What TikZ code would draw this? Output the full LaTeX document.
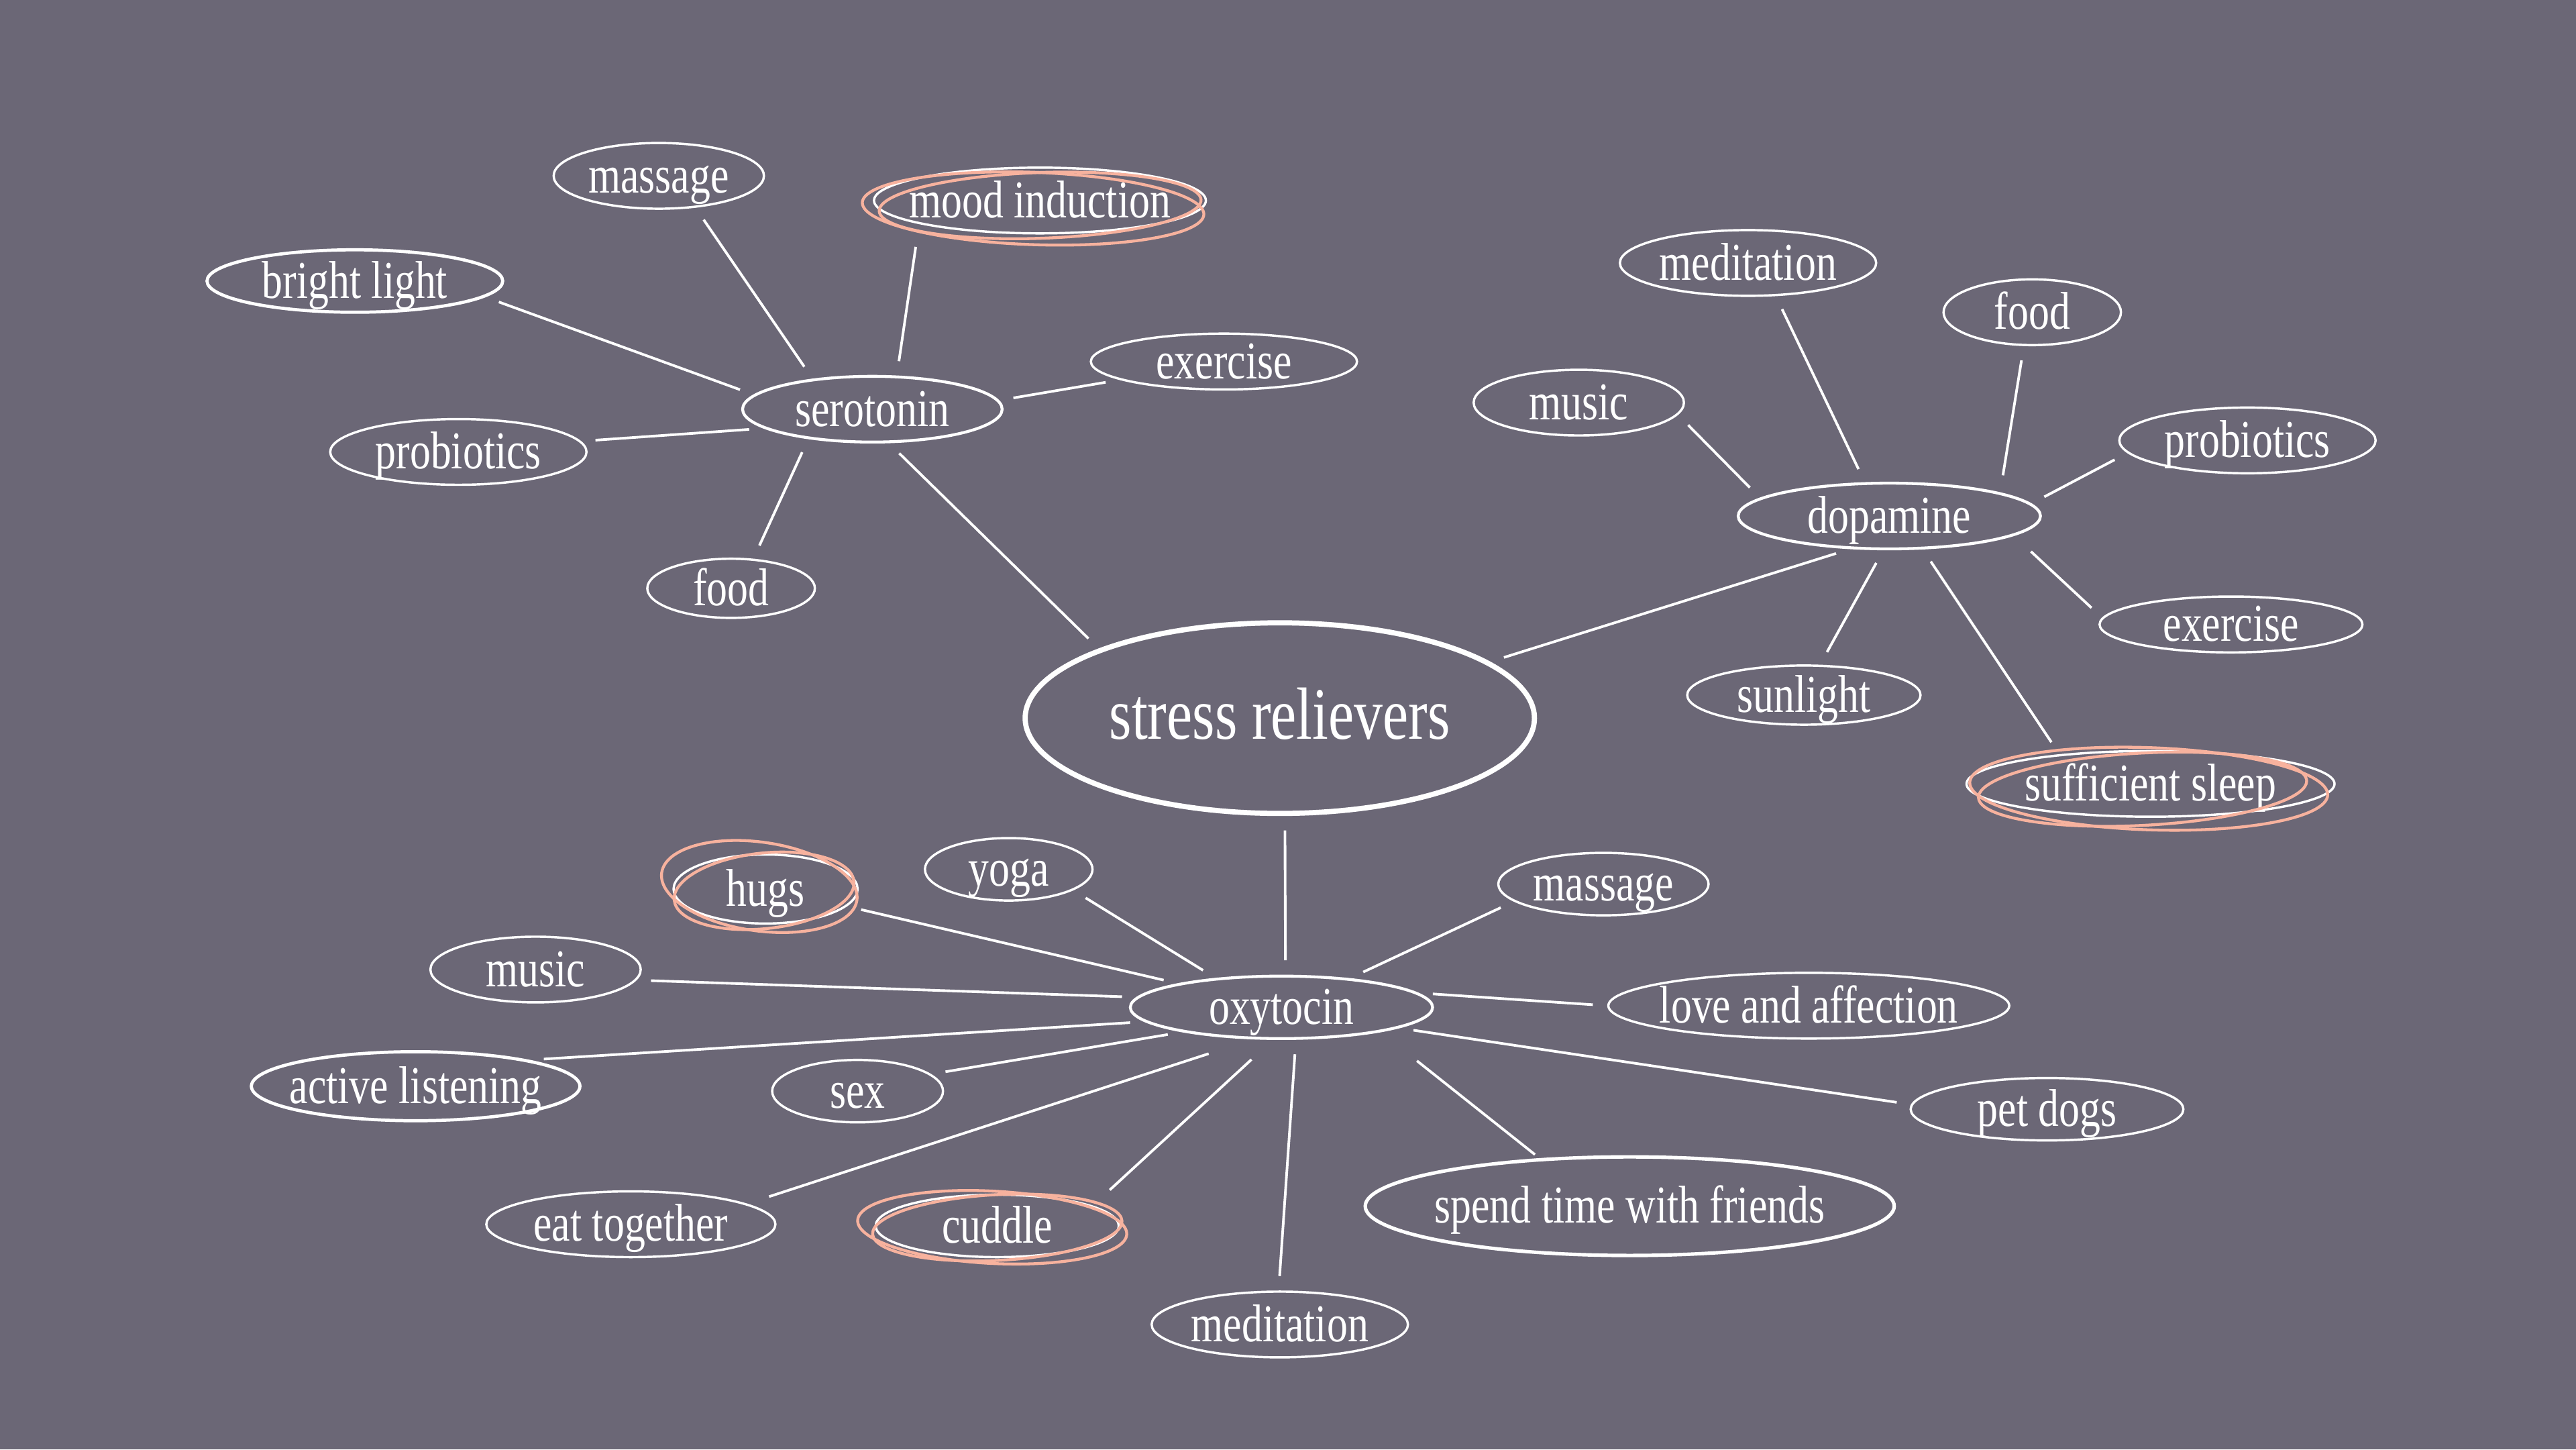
\documentclass[tikz,border=0pt]{standalone}
\usepackage{fontspec}
\setmainfont{Liberation Serif}[FakeStretch=0.78]
\usepackage{xcolor}
\usetikzlibrary{shapes}
\definecolor{slate}{RGB}{107,103,118}
\definecolor{blush}{RGB}{247,178,158}

\begin{document}
\begin{tikzpicture}[
	leaf/.style={draw=white, text=white, ellipse, line width=0.4pt, inner xsep=-0.1cm, inner ysep=-0.04cm, text height=1.5ex, text depth=0.22ex, font=\fontsize{9.2}{11}\selectfont},
	hub/.style={leaf, line width=0.5pt},
	link/.style={draw=white, line width=0.45pt, shorten <=2.5pt, shorten >=2.5pt},
	ring/.style={draw=blush, line width=0.5pt}]
	   	%Hintergrund
	   	\useasboundingbox (0,0) rectangle (15.68,-8.82);
	   	\fill[slate] (0,0) rectangle (15.68,-8.82);
	   	%
	   	%Mitte
	   	\node (stress) at (7.79,-4.37) [leaf, line width=0.9pt, minimum width=3.1cm, minimum height=1.16cm, text height=1.6ex, text depth=0pt, font=\fontsize{12.8}{15}\selectfont] {stress relievers};
	   	%
	   	%%%%%%%%%%%%%%%%%%%%%%%%%%%%%%%%%%%%%%
	   	%SEROTONIN
	   	\node (sero) at (5.31,-2.49) [hub, minimum width=1.58cm, minimum height=0.4cm] {serotonin};
	   	\node (sMassage) at (4.01,-1.07) [leaf, minimum width=1.28cm, minimum height=0.4cm] {massage};
	   	\node (sMood) at (6.33,-1.22) [leaf, minimum width=2.02cm, minimum height=0.4cm] {mood induction};
	   	\node (sLight) at (2.16,-1.71) [leaf, line width=0.55pt, minimum width=1.8cm, minimum height=0.38cm] {bright light};
	   	\node (sExercise) at (7.45,-2.2) [leaf, minimum width=1.62cm, minimum height=0.34cm] {exercise};
	   	\node (sProbiotics) at (2.79,-2.75) [leaf, minimum width=1.56cm, minimum height=0.4cm] {probiotics};
	   	\node (sFood) at (4.45,-3.58) [leaf, minimum width=1.02cm, minimum height=0.36cm] {food};
	   	%
	   	%Ringe mood induction
	   	\draw[ring, rotate around={-2:(sMood.center)}] ([shift={(-0.04,-0.05)}]sMood.center) ellipse (1.04 and 0.22);
	   	\draw[ring, rotate around={2:(sMood.center)}] ([shift={(0,-0.03)}]sMood.center) ellipse (0.98 and 0.2);
	   	%
	   	%Linien Serotonin
	   	\draw[link] (sero.153) -- (sMassage.-41);
	   	\draw[link, shorten >=4pt] (sero.54) -- (sMood.-169);
	   	\draw[link] (sero.173) -- (sLight.-7);
	   	\draw[link] (sero.4) -- (sExercise.190);
	   	\draw[link] (sero.190) -- (sProbiotics.5);
	   	\draw[link] (sero.205) -- (sFood.53);
	   	\draw[link] (sero.-64) -- (stress.159);
	   	%
	   	%%%%%%%%%%%%%%%%%%%%%%%%%%%%%%%%%%%%%%
	   	%DOPAMINE
	   	\node (dopa) at (11.5,-3.14) [hub, minimum width=1.84cm, minimum height=0.4cm] {dopamine};
	   	\node (dMeditation) at (10.64,-1.6) [leaf, minimum width=1.56cm, minimum height=0.4cm] {meditation};
	   	\node (dFood) at (12.37,-1.9) [leaf, minimum width=1.08cm, minimum height=0.4cm] {food};
	   	\node (dMusic) at (9.61,-2.45) [leaf, minimum width=1.28cm, minimum height=0.4cm] {music};
	   	\node (dProbiotics) at (13.68,-2.68) [leaf, minimum width=1.56cm, minimum height=0.4cm] {probiotics};
	   	\node (dExercise) at (13.58,-3.8) [leaf, minimum width=1.6cm, minimum height=0.34cm] {exercise};
	   	\node (dSunlight) at (10.98,-4.23) [leaf, minimum width=1.42cm, minimum height=0.36cm] {sunlight};
	   	\node (dSleep) at (13.09,-4.77) [leaf, minimum width=2.24cm, minimum height=0.4cm] {sufficient sleep};
	   	%
	   	%Ringe sufficient sleep
	   	\draw[ring, rotate around={-2:(dSleep.center)}] ([shift={(-0.01,-0.03)}]dSleep.center) ellipse (1.09 and 0.25);
	   	\draw[ring, rotate around={3:(dSleep.center)}] ([shift={(-0.05,-0.03)}]dSleep.center) ellipse (1.0 and 0.22);
	   	%
	   	%Linien Dopamine
	   	\draw[link] (dopa.126) -- (dMeditation.-50);
	   	\draw[link, shorten <=3pt] (dopa.12) -- (dFood.-104);
	   	\draw[link] (dopa.172) -- (dMusic.-7);
	   	\draw[link] (dopa.5) -- (dProbiotics.186);
	   	\draw[link, shorten <=4pt] (dopa.-9) -- (dExercise.177);
	   	\draw[link] (dopa.-100) -- (dSunlight.62);
	   	\draw[link] (dopa.-45) -- (dSleep.162);
	   	\draw[link] (dopa.220) -- (stress.15);
	   	%
	   	%%%%%%%%%%%%%%%%%%%%%%%%%%%%%%%%%%%%%%
	   	%OXYTOCIN
	   	\node (oxy) at (7.8,-6.13) [hub, minimum width=1.84cm, minimum height=0.38cm] {oxytocin};
	   	\node (oHugs) at (4.66,-5.41) [leaf, minimum width=1.12cm, minimum height=0.42cm] {hugs};
	   	\node (oYoga) at (6.14,-5.29) [leaf, minimum width=1.02cm, minimum height=0.38cm] {yoga};
	   	\node (oMassage) at (9.76,-5.38) [leaf, minimum width=1.28cm, minimum height=0.38cm] {massage};
	   	\node (oMusic) at (3.26,-5.9) [leaf, minimum width=1.28cm, minimum height=0.4cm] {music};
	   	\node (oLove) at (11.01,-6.12) [leaf, minimum width=2.44cm, minimum height=0.4cm] {love and affection};
	   	\node (oListening) at (2.53,-6.61) [leaf, line width=0.55pt, minimum width=2cm, minimum height=0.42cm] {active listening};
	   	\node (oSex) at (5.22,-6.64) [leaf, minimum width=1.04cm, minimum height=0.38cm] {sex};
	   	\node (oDogs) at (12.46,-6.75) [leaf, minimum width=1.66cm, minimum height=0.38cm] {pet dogs};
	   	\node (oEat) at (3.84,-7.45) [leaf, minimum width=1.76cm, minimum height=0.4cm] {eat together};
	   	\node (oCuddle) at (6.07,-7.46) [leaf, minimum width=1.48cm, minimum height=0.38cm] {cuddle};
	   	\node (oFriends) at (9.92,-7.34) [leaf, line width=0.6pt, minimum width=3.22cm, minimum height=0.6cm] {spend time with friends};
	   	\node (oMeditation) at (7.79,-8.06) [leaf, minimum width=1.56cm, minimum height=0.4cm] {meditation};
	   	%
	   	%Ringe hugs, cuddle
	   	\draw[ring, rotate around={-8:(oHugs.center)}] ([shift={(-0.04,0.01)}]oHugs.center) ellipse (0.6 and 0.27);
	   	\draw[ring, rotate around={6:(oHugs.center)}] ([shift={(-0.01,-0.01)}]oHugs.center) ellipse (0.55 and 0.23);
	   	\draw[ring, rotate around={-3:(oCuddle.center)}] ([shift={(-0.03,-0.01)}]oCuddle.center) ellipse (0.82 and 0.22);
	   	\draw[ring, rotate around={3:(oCuddle.center)}] ([shift={(0,-0.01)}]oCuddle.center) ellipse (0.76 and 0.2);
	   	%
	   	%Linien Oxytocin
	   	\draw[link] (stress.-87) -- (oxy.83);
	   	\draw[link] (oxy.167) -- (oHugs.-12);
	   	\draw[link] (oxy.156) -- (oYoga.-18);
	   	\draw[link] (oxy.23) -- (oMassage.191);
	   	\draw[link] (oxy.176) -- (oMusic.-6);
	   	\draw[link] (oxy.6) -- (oLove.180);
	   	\draw[link] (oxy.186) -- (oListening.13);
	   	\draw[link] (oxy.194) -- (oSex.13);
	   	\draw[link] (oxy.-10) -- (oDogs.178);
	   	\draw[link, shorten <=8pt, shorten >=4pt] (oxy.228) -- (oEat.10);
	   	\draw[link, shorten <=5pt, shorten >=4pt] (oxy.255) -- (oCuddle.12);
	   	\draw[link, shorten <=8pt, shorten >=1pt] (oxy.-14) -- (oFriends.152);
	   	\draw[link] (oxy.-66) -- (oMeditation.92);
\end{tikzpicture}
\end{document}
